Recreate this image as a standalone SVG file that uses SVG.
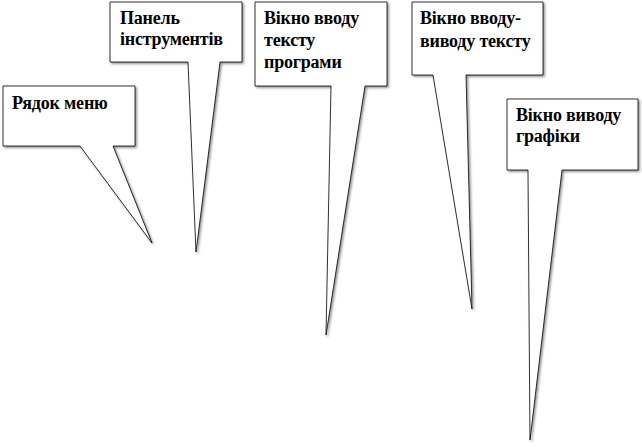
<svg xmlns="http://www.w3.org/2000/svg" width="642" height="447" viewBox="0 0 642 447">
<defs>
<filter id="sh" x="-10%" y="-10%" width="130%" height="130%">
<feDropShadow dx="1.5" dy="1.5" stdDeviation="1" flood-color="#000" flood-opacity="0.45"/>
</filter>
</defs>
<style>
.c{fill:#fff;stroke:#000;stroke-width:0.8;filter:url(#sh)}
.t{font-family:'Times New Roman','Liberation Serif',serif;font-weight:700;font-size:18px;fill:#000;letter-spacing:-0.2px}
</style>
<rect width="642" height="447" fill="#fff"/>
<g id="callout-menu">
<path class="c" d="M3,86 H135 V146 H113 L152,243 L80,146 H3 Z"/>
<text class="t" x="12" y="109">Рядок меню</text>
</g>
<g id="callout-toolbar">
<path class="c" d="M110,2 H242 V62 H220 L196,252 L188,62 H110 Z"/>
<text class="t" x="120" y="24">Панель</text>
<text class="t" x="120" y="45">інструментів</text>
</g>
<g id="callout-program">
<path class="c" d="M255,2 H387 V86 H365 L326,335 L331,86 H255 Z"/>
<text class="t" x="264" y="24">Вікно вводу</text>
<text class="t" x="264" y="46">тексту</text>
<text class="t" x="264" y="68">програми</text>
</g>
<g id="callout-io">
<path class="c" d="M412,2 H543 V75 H466 L472,309 L433,75 H412 Z"/>
<text class="t" x="420" y="24">Вікно вводу-</text>
<text class="t" x="420" y="47">виводу тексту</text>
</g>
<g id="callout-graphics">
<path class="c" d="M507,99 H638 V170 H562 L530,440 L528,170 H507 Z"/>
<text class="t" x="516" y="121">Вікно виводу</text>
<text class="t" x="516" y="142">графіки</text>
</g>
<g id="connectors"/>
</svg>
